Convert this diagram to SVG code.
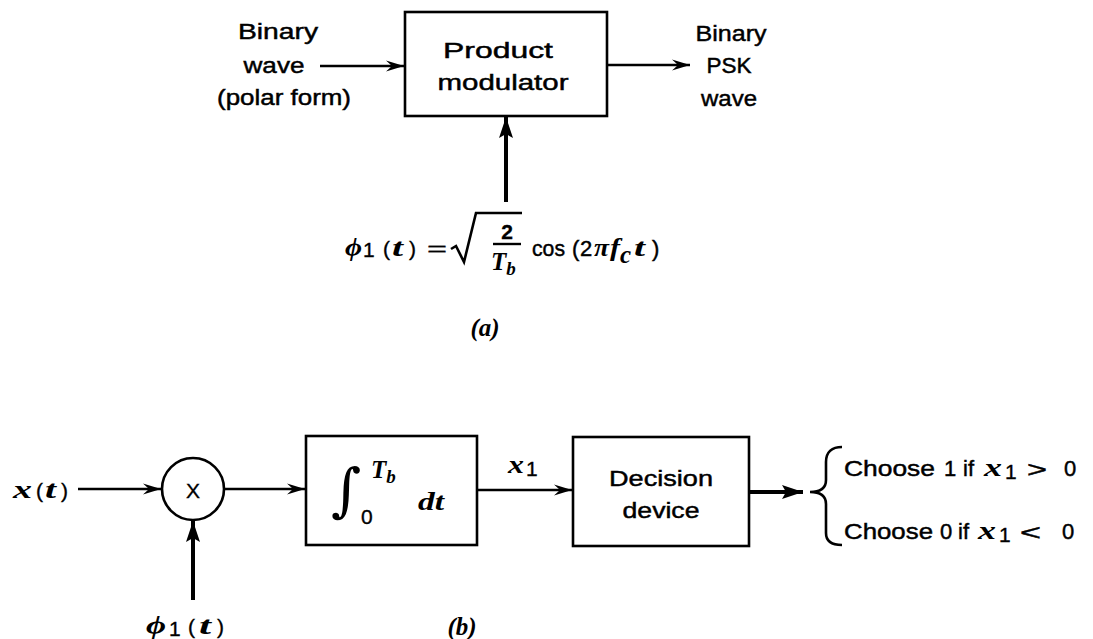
<svg xmlns="http://www.w3.org/2000/svg" width="1093" height="639" viewBox="0 0 1093 639">
<style>
.box{fill:#fff;stroke:#000;stroke-width:2.6}
.ln{fill:none;stroke:#000;stroke-width:2.6}
.thk{fill:none;stroke:#000;stroke-width:4}
.s{font-family:"Liberation Sans",Arial,sans-serif;font-size:22px;fill:#000;stroke:#000;stroke-width:0.45}
.m{font-family:"Liberation Serif","Times New Roman",serif;font-style:italic;font-weight:bold;font-size:25px;fill:#000}
.n{font-family:"Liberation Sans",Arial,sans-serif;font-size:21px;fill:#000;stroke:#000;stroke-width:0.35}
</style>
<defs>
<marker id="barb" markerUnits="userSpaceOnUse" markerWidth="20" markerHeight="12" refX="18" refY="6" orient="auto">
<path d="M0,0.5 L18,6 L0,11.5 L6,6 z" fill="#000"/>
</marker>
<marker id="solid" markerUnits="userSpaceOnUse" markerWidth="22" markerHeight="14" refX="21" refY="7" orient="auto">
<path d="M0,0 L21,7 L0,14 L4,7 z" fill="#000"/>
</marker>
</defs>

<!-- (a) -->
<g id="input-label-a">
<text class="s" x="278" y="39" text-anchor="middle" textLength="80" lengthAdjust="spacingAndGlyphs">Binary</text>
<text class="s" x="274" y="73" text-anchor="middle" textLength="61" lengthAdjust="spacingAndGlyphs">wave</text>
<text class="s" x="284" y="105" text-anchor="middle" textLength="134" lengthAdjust="spacingAndGlyphs">(polar form)</text>
</g>
<g id="product-modulator">
<rect class="box" x="405" y="12" width="202" height="104"/>
<text class="s" x="498" y="58" text-anchor="middle" textLength="110" lengthAdjust="spacingAndGlyphs">Product</text>
<text class="s" x="503" y="90" text-anchor="middle" textLength="131" lengthAdjust="spacingAndGlyphs">modulator</text>
</g>
<g id="output-label-a">
<text class="s" x="731" y="41" text-anchor="middle" textLength="71" lengthAdjust="spacingAndGlyphs">Binary</text>
<text class="s" x="729" y="73" text-anchor="middle" textLength="45" lengthAdjust="spacingAndGlyphs">PSK</text>
<text class="s" x="729" y="106" text-anchor="middle" textLength="56" lengthAdjust="spacingAndGlyphs">wave</text>
</g>
<g id="carrier-formula">
<text class="m" x="345" y="256" font-size="27" textLength="17" lengthAdjust="spacingAndGlyphs">ϕ</text>
<text class="n" x="363" y="257" font-size="22">1</text>
<text class="n" x="383" y="256" font-size="23">(</text>
<text class="m" x="392" y="256" font-size="26" textLength="11" lengthAdjust="spacingAndGlyphs">t</text>
<text class="n" x="409" y="256" font-size="23">)</text>
<text class="n" x="427" y="256" font-size="28" textLength="20" lengthAdjust="spacingAndGlyphs">=</text>
<path class="ln" d="M451,249 L456,246 L464,262 L476,213 L522,213"/>
<text class="n" x="507" y="239" text-anchor="middle" font-weight="bold" font-size="24">2</text>
<line x1="493" y1="244" x2="521" y2="244" stroke="#000" stroke-width="2.4"/>
<text class="m" x="491" y="270">T<tspan font-size="19" dy="5">b</tspan></text>
<text class="s" x="532" y="256" textLength="33" lengthAdjust="spacingAndGlyphs">cos</text>
<text class="s" x="572" y="256" font-size="23">(</text>
<text class="s" x="580" y="256" font-size="23">2</text>
<text class="m" x="594" y="256" font-size="26" textLength="15" lengthAdjust="spacingAndGlyphs">π</text>
<text class="m" x="610" y="256" font-size="26" textLength="10" lengthAdjust="spacingAndGlyphs">f</text>
<text class="m" x="620" y="263" font-size="20">c</text>
<text class="m" x="634" y="256" font-size="26" textLength="11" lengthAdjust="spacingAndGlyphs">t</text>
<text class="s" x="652" y="256" font-size="23">)</text>
</g>
<text id="cap-a" class="m" x="485" y="336" text-anchor="middle" font-size="21">(a)</text>

<!-- (b) -->
<g id="input-label-b">
<text class="m" x="13" y="498" font-size="27" textLength="19" lengthAdjust="spacingAndGlyphs">x</text>
<text class="n" x="36" y="498" font-size="24">(</text>
<text class="m" x="45" y="498" font-size="27" textLength="11" lengthAdjust="spacingAndGlyphs">t</text>
<text class="n" x="61" y="498" font-size="24">)</text>
</g>
<g id="multiplier">
<circle class="box" cx="193" cy="489" r="31"/>
<text class="n" x="193" y="498" text-anchor="middle" font-size="25">X</text>
</g>
<g id="phi-label-b">
<text class="m" x="146" y="634" font-size="28" textLength="20" lengthAdjust="spacingAndGlyphs">ϕ</text>
<text class="n" x="169" y="636" font-size="22">1</text>
<text class="n" x="188" y="634" font-size="24">(</text>
<text class="m" x="199" y="634" font-size="27" textLength="12" lengthAdjust="spacingAndGlyphs">t</text>
<text class="n" x="217" y="634" font-size="24">)</text>
</g>
<g id="integrator">
<rect class="box" x="306" y="436" width="171" height="109"/>
<text x="346" y="510" text-anchor="middle" font-family="DejaVu Serif,serif" font-size="58" fill="#000">∫</text>
<text class="n" x="361" y="524" font-size="19">0</text>
<text class="m" x="371" y="478" font-size="26">T<tspan font-size="19" dy="5">b</tspan></text>
<text class="m" x="418" y="510" font-size="26" textLength="26" lengthAdjust="spacingAndGlyphs">dt</text>
</g>
<g id="x1-label">
<text class="m" x="508" y="473" font-size="26" textLength="16" lengthAdjust="spacingAndGlyphs">x</text>
<text class="n" x="526" y="476" font-size="19">1</text>
</g>
<g id="decision-device">
<rect class="box" x="573" y="437" width="176" height="109"/>
<text class="s" x="661" y="486" text-anchor="middle" textLength="104" lengthAdjust="spacingAndGlyphs">Decision</text>
<text class="s" x="661" y="518" text-anchor="middle" textLength="77" lengthAdjust="spacingAndGlyphs">device</text>
</g>
<g id="decision-rule">
<path class="ln" stroke-width="2" d="M842,447 C832,447 826,452 826,462 L826,480 C826,488 820,492 810,492 C820,492 826,496 826,504 L826,533 C826,541 832,545 842,545"/>
<text class="s" x="844" y="476" textLength="91" lengthAdjust="spacingAndGlyphs">Choose</text>
<text class="s" x="944" y="476">1</text>
<text class="s" x="963" y="476">if</text>
<text class="m" x="984" y="476" font-size="27" textLength="18" lengthAdjust="spacingAndGlyphs">x</text>
<text class="n" x="1005" y="479" font-size="19">1</text>
<text class="s" x="1027" y="477" font-size="26" textLength="20" lengthAdjust="spacingAndGlyphs">&gt;</text>
<text class="s" x="1064" y="476" font-size="24">0</text>
<text class="s" x="844" y="539" textLength="89" lengthAdjust="spacingAndGlyphs">Choose</text>
<text class="s" x="940" y="539">0</text>
<text class="s" x="958" y="539">if</text>
<text class="m" x="978" y="539" font-size="27" textLength="18" lengthAdjust="spacingAndGlyphs">x</text>
<text class="n" x="999" y="542" font-size="19">1</text>
<text class="s" x="1020" y="540" font-size="26" textLength="21" lengthAdjust="spacingAndGlyphs">&lt;</text>
<text class="s" x="1062" y="539" font-size="24">0</text>
</g>
<text id="cap-b" class="m" x="462" y="635" text-anchor="middle" font-size="19" font-weight="normal">(b)</text>

<g id="connectors">
<line class="ln" x1="320" y1="66" x2="404" y2="66" marker-end="url(#barb)"/>
<line class="ln" x1="607" y1="65" x2="690" y2="65" marker-end="url(#barb)"/>
<line class="thk" x1="506" y1="202" x2="506" y2="117" marker-end="url(#solid)"/>
<line class="ln" x1="78" y1="489" x2="161" y2="489" marker-end="url(#barb)"/>
<line class="ln" x1="224" y1="489" x2="305" y2="489" marker-end="url(#barb)"/>
<line class="thk" x1="193" y1="600" x2="193" y2="521" marker-end="url(#solid)"/>
<line class="ln" x1="477" y1="490" x2="572" y2="490" marker-end="url(#barb)"/>
<line class="thk" stroke-width="3.5" x1="749" y1="492" x2="803" y2="492" marker-end="url(#solid)"/>
</g>
</svg>
